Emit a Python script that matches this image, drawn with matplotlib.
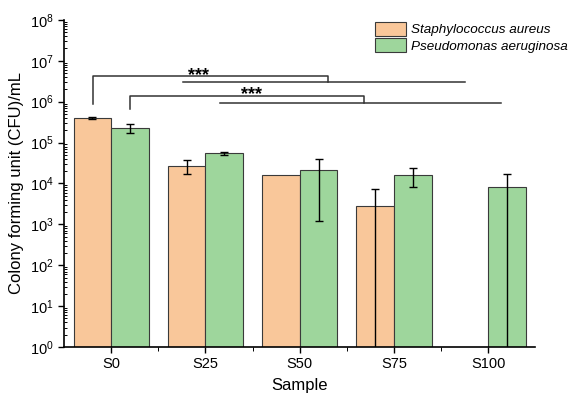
import numpy as np
import matplotlib
matplotlib.use("Agg")
import matplotlib.pyplot as plt
from matplotlib.ticker import LogLocator, FixedLocator, NullFormatter

plt.rcParams["font.family"] = ["Liberation Sans", "DejaVu Sans"]

# --- veriler ---
samples = ["S0", "S25", "S50", "S75", "S100"]
sa_vals = [4.0e5, 2.7e4, 1.65e4, 2.8e3, np.nan]
sa_err = [2.0e4, 9.5e3, 0.0, 4.5e3, np.nan]
pa_vals = [2.25e5, 5.5e4, 2.1e4, 1.6e4, 8.2e3]
pa_err = [5.5e4, 4.0e3, 1.98e4, 8.0e3, 8.5e3]
series_names = ["Staphylococcus aureus", "Pseudomonas aeruginosa"]

C_SA, C_PA = "#f9c79a", "#9ed69c"
EDGE = "#3a3a3a"

fig = plt.figure(figsize=(5.73, 3.98), dpi=100)
ax = fig.add_axes([0.112, 0.128, 0.822, 0.822])
x = np.arange(len(samples))
w = 0.4

def lower(vals, errs):
    # log eksende negatif alt sinir -> eksen altina uzat
    return [min(e, v - 0.3) if np.isfinite(v) else np.nan for v, e in zip(vals, errs)]

ax.bar(x - w / 2, sa_vals, w, color=C_SA, edgecolor=EDGE, lw=0.8, label=series_names[0], zorder=2)
ax.bar(x + w / 2, pa_vals, w, color=C_PA, edgecolor=EDGE, lw=0.8, label=series_names[1], zorder=2)
m = np.array(sa_err) > 0
ax.errorbar((x - w / 2)[m], np.array(sa_vals)[m],
            yerr=[np.array(lower(sa_vals, sa_err))[m], np.array(sa_err)[m]],
            fmt="none", ecolor="black", elinewidth=1, capsize=3, capthick=1, zorder=3)
ax.errorbar(x + w / 2, pa_vals, yerr=[lower(pa_vals, pa_err), pa_err],
            fmt="none", ecolor="black", elinewidth=1, capsize=3, capthick=1, zorder=3)

ax.set_yscale("log")
ax.set_ylim(1, 1e8)
ax.set_xlim(-0.5, 4.5)
ax.set_xticks(x)
ax.set_xticklabels(samples, fontsize=10.5)
ax.xaxis.set_minor_locator(FixedLocator(x[:-1] + 0.5))
ax.yaxis.set_major_locator(LogLocator(base=10, numticks=10))
ax.yaxis.set_minor_locator(LogLocator(base=10, subs=np.arange(2, 10), numticks=100))
ax.yaxis.set_minor_formatter(NullFormatter())
ax.tick_params(axis="y", which="major", direction="out", length=4, width=1, labelsize=10.5)
ax.tick_params(axis="y", which="minor", direction="in", length=2.5, width=0.7)
ax.tick_params(axis="x", which="major", direction="out", length=4, width=1, labelsize=10.5)
ax.tick_params(axis="x", which="minor", direction="out", length=3, width=0.7)
for s in ("top", "right"):
    ax.spines[s].set_visible(False)
for s in ("left", "bottom"):
    ax.spines[s].set_linewidth(1.2)

ax.set_xlabel("Sample", fontsize=12, labelpad=5)
ax.set_ylabel("Colony forming unit (CFU)/mL", fontsize=12, labelpad=4)

# anlamlilik cizgileri
lc = dict(color="#333333", lw=1.1, zorder=4)
ax.plot([-0.19, -0.19, 2.30, 2.30], [8.8e5, 4.26e6, 4.26e6, 3.0e6], **lc)
ax.plot([0.76, 3.75], [3.0e6, 3.0e6], **lc)
ax.text(0.93, 3.3e6, "***", ha="center", va="baseline", fontsize=13, fontweight="bold")
ax.plot([0.20, 0.20, 2.68, 2.68], [6.6e5, 1.38e6, 1.38e6, 9.3e5], **lc)
ax.plot([1.15, 4.14], [9.3e5, 9.3e5], **lc)
ax.text(1.49, 1.17e6, "***", ha="center", va="baseline", fontsize=13, fontweight="bold")

leg = ax.legend(loc="upper right", bbox_to_anchor=(1.095, 1.03), frameon=False,
                handlelength=2.3, handleheight=1.15, handletextpad=0.4, labelspacing=0.15,
                prop={"style": "italic", "size": 9.7})

fig.savefig("out.png", dpi=100)
